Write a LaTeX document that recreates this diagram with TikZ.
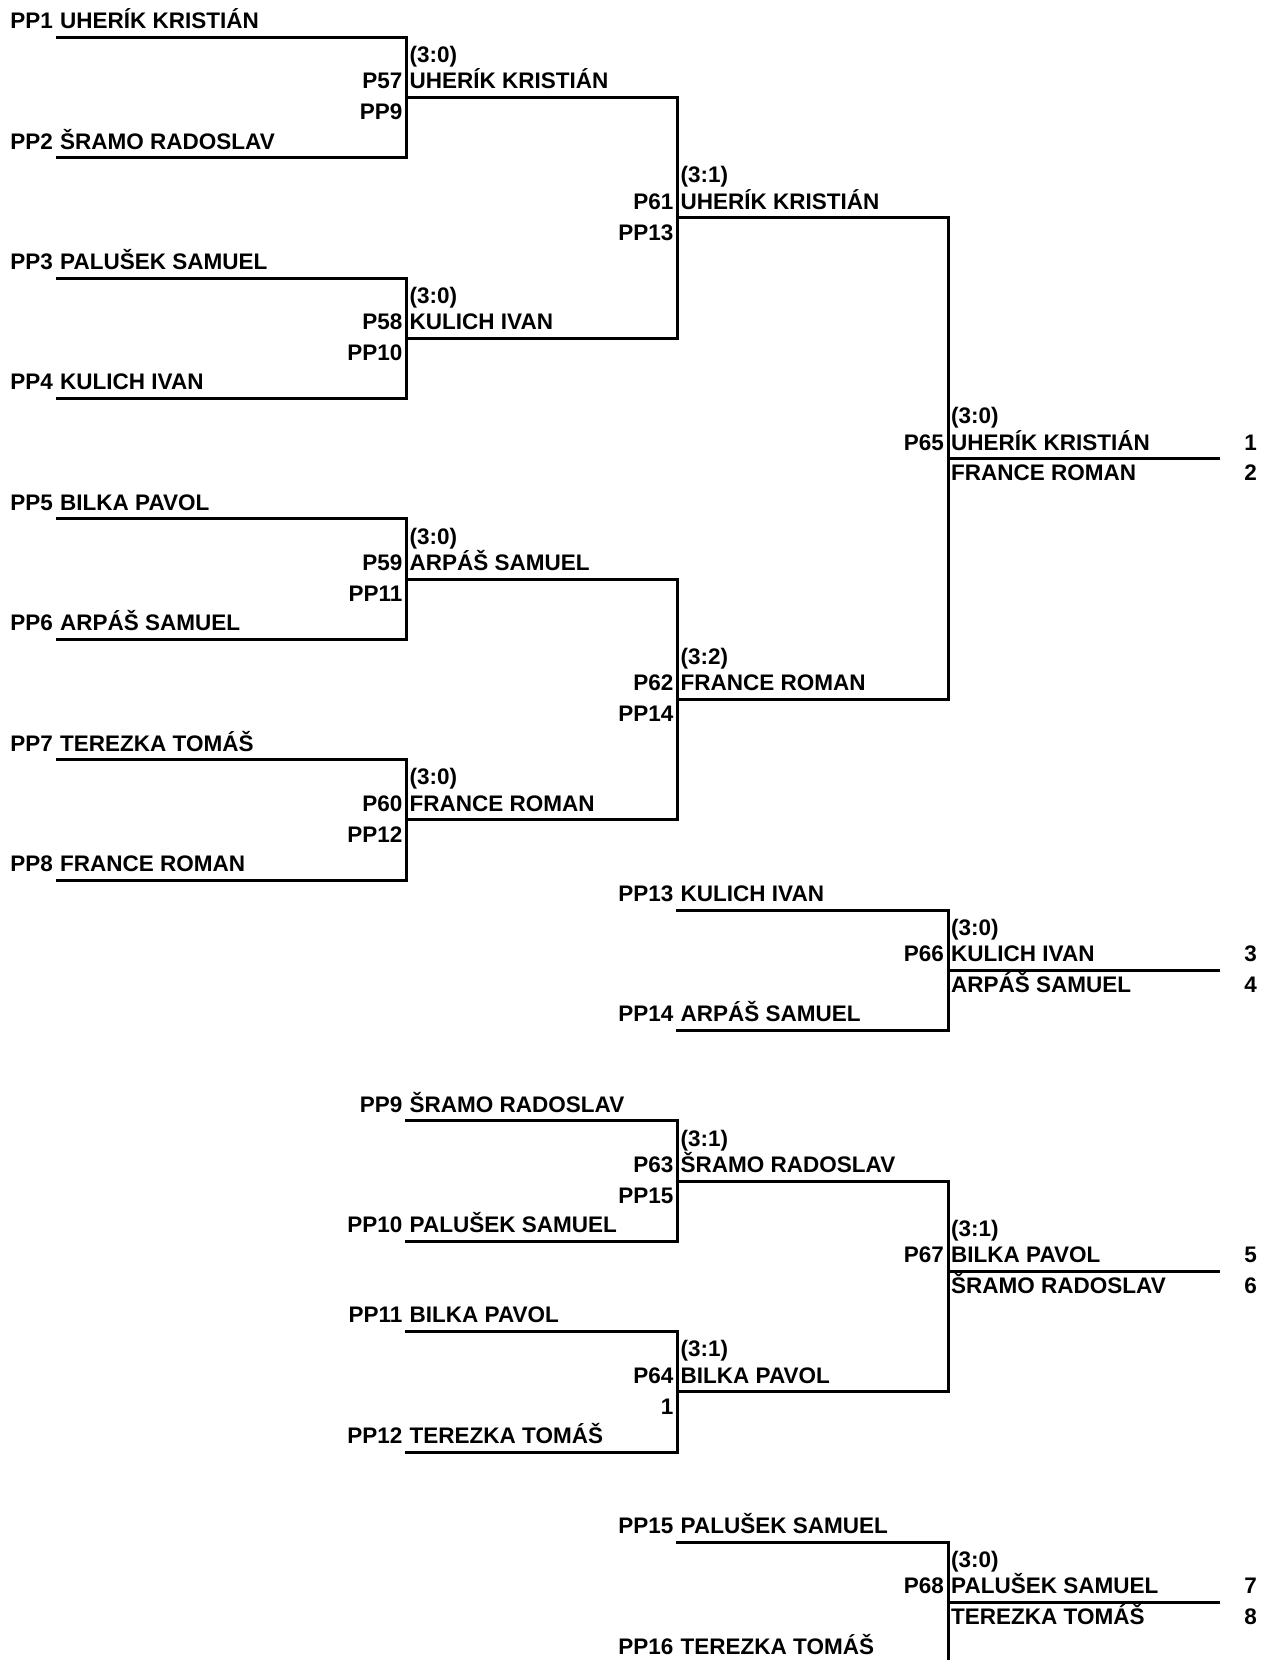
\documentclass[tikz,border=0pt]{standalone}
\usepackage{fontspec}
\setmainfont{Liberation Sans}
\tikzset{
  txt/.style={font=\fontsize{22.5}{27}\selectfont\bfseries, inner sep=0pt, text=black},
  br/.style={line width=3pt, line join=miter, line cap=rect},
}
\def\xA{57}
\def\xB{406.5}
\def\xC{677.5}
\def\xD{948}
\def\xE{1218.5}
\def\xP{1257}
% seed line: id, xstart, xend, row, code, name
\newcommand\seed[6]{%
  \coordinate (#1-a) at (#2,{37.3+60.2*#4});
  \coordinate (#1-b) at (#3,{37.3+60.2*#4});
  \node[txt,anchor=base east] (#1-code) at ([shift={(-4pt,8.7pt)}]#1-a) {#5};
  \node[txt,anchor=base west] (#1-name) at ([shift={(3pt,8.7pt)}]#1-a) {#6};
}
% match line: id, xstart, xend, row, code, score, name, below
\newcommand\match[8]{%
  \coordinate (#1-a) at (#2,{37.3+60.2*#4});
  \coordinate (#1-b) at (#3,{37.3+60.2*#4});
  \node[txt,anchor=base east] (#1-code) at ([shift={(-4pt,8.7pt)}]#1-a) {#5};
  \node[txt,anchor=base west] (#1-score) at ([shift={(3pt,35pt)}]#1-a) {#6};
  \node[txt,anchor=base west] (#1-name) at ([shift={(3pt,8.7pt)}]#1-a) {#7};
  \node[txt,anchor=base east] (#1-below) at ([shift={(-4pt,-22.2pt)}]#1-a) {#8};
}
% final: id, row, code, score, winner, loser, place1, place2
\newcommand\final[8]{%
  \coordinate (#1-a) at (\xD,{37.3+60.2*#2});
  \coordinate (#1-b) at (\xE,{37.3+60.2*#2});
  \coordinate (#1-p) at (\xP,{37.3+60.2*#2});
  \draw[br] (#1-a) -- (#1-b);
  \node[txt,anchor=base east] (#1-code) at ([shift={(-4pt,8.7pt)}]#1-a) {#3};
  \node[txt,anchor=base west] (#1-score) at ([shift={(3pt,35pt)}]#1-a) {#4};
  \node[txt,anchor=base west] (#1-name) at ([shift={(3pt,8.7pt)}]#1-a) {#5};
  \node[txt,anchor=base west] (#1-loser) at ([shift={(3pt,-22.2pt)}]#1-a) {#6};
  \node[txt,anchor=base east] (#1-p1) at ([shift={(0pt,8.7pt)}]#1-p) {#7};
  \node[txt,anchor=base east] (#1-p2) at ([shift={(0pt,-22.2pt)}]#1-p) {#8};
}
\newcommand\bracket[2]{\draw[br] (#1-a) -- (#1-b) -- (#2-b) -- (#2-a);}
\begin{document}
\begin{tikzpicture}[x=1pt,y=-1pt]
\useasboundingbox (0,0) rectangle (1271,1660);
\clip (0,0) rectangle (1271,1660);
\fill[white] (0,0) rectangle (1271,1660);
% ---- main bracket
\seed{PP1}{\xA}{\xB}{0}{PP1}{UHERÍK KRISTIÁN}
\seed{PP2}{\xA}{\xB}{2}{PP2}{ŠRAMO RADOSLAV}
\seed{PP3}{\xA}{\xB}{4}{PP3}{PALUŠEK SAMUEL}
\seed{PP4}{\xA}{\xB}{6}{PP4}{KULICH IVAN}
\seed{PP5}{\xA}{\xB}{8}{PP5}{BILKA PAVOL}
\seed{PP6}{\xA}{\xB}{10}{PP6}{ARPÁŠ SAMUEL}
\seed{PP7}{\xA}{\xB}{12}{PP7}{TEREZKA TOMÁŠ}
\seed{PP8}{\xA}{\xB}{14}{PP8}{FRANCE ROMAN}
\match{P57}{\xB}{\xC}{1}{P57}{(3:0)}{UHERÍK KRISTIÁN}{PP9}
\match{P58}{\xB}{\xC}{5}{P58}{(3:0)}{KULICH IVAN}{PP10}
\match{P59}{\xB}{\xC}{9}{P59}{(3:0)}{ARPÁŠ SAMUEL}{PP11}
\match{P60}{\xB}{\xC}{13}{P60}{(3:0)}{FRANCE ROMAN}{PP12}
\match{P61}{\xC}{\xD}{3}{P61}{(3:1)}{UHERÍK KRISTIÁN}{PP13}
\match{P62}{\xC}{\xD}{11}{P62}{(3:2)}{FRANCE ROMAN}{PP14}
\bracket{PP1}{PP2}
\bracket{PP3}{PP4}
\bracket{PP5}{PP6}
\bracket{PP7}{PP8}
\bracket{P57}{P58}
\bracket{P59}{P60}
\bracket{P61}{P62}
\final{P65}{7}{P65}{(3:0)}{UHERÍK KRISTIÁN}{FRANCE ROMAN}{1}{2}
% ---- 3rd place
\seed{PP13}{\xC}{\xD}{14.5}{PP13}{KULICH IVAN}
\seed{PP14}{\xC}{\xD}{16.5}{PP14}{ARPÁŠ SAMUEL}
\bracket{PP13}{PP14}
\final{P66}{15.5}{P66}{(3:0)}{KULICH IVAN}{ARPÁŠ SAMUEL}{3}{4}
% ---- 5th-8th
\seed{PP9}{\xB}{\xC}{18}{PP9}{ŠRAMO RADOSLAV}
\seed{PP10}{\xB}{\xC}{20}{PP10}{PALUŠEK SAMUEL}
\seed{PP11}{\xB}{\xC}{21.5}{PP11}{BILKA PAVOL}
\seed{PP12}{\xB}{\xC}{23.5}{PP12}{TEREZKA TOMÁŠ}
\match{P63}{\xC}{\xD}{19}{P63}{(3:1)}{ŠRAMO RADOSLAV}{PP15}
\match{P64}{\xC}{\xD}{22.5}{P64}{(3:1)}{BILKA PAVOL}{1}
\bracket{PP9}{PP10}
\bracket{PP11}{PP12}
\bracket{P63}{P64}
\final{P67}{20.5}{P67}{(3:1)}{BILKA PAVOL}{ŠRAMO RADOSLAV}{5}{6}
% ---- 7th place
\seed{PP15}{\xC}{\xD}{25}{PP15}{PALUŠEK SAMUEL}
\seed{PP16}{\xC}{\xD}{27}{PP16}{TEREZKA TOMÁŠ}
\bracket{PP15}{PP16}
\final{P68}{26}{P68}{(3:0)}{PALUŠEK SAMUEL}{TEREZKA TOMÁŠ}{7}{8}
\end{tikzpicture}
\end{document}
